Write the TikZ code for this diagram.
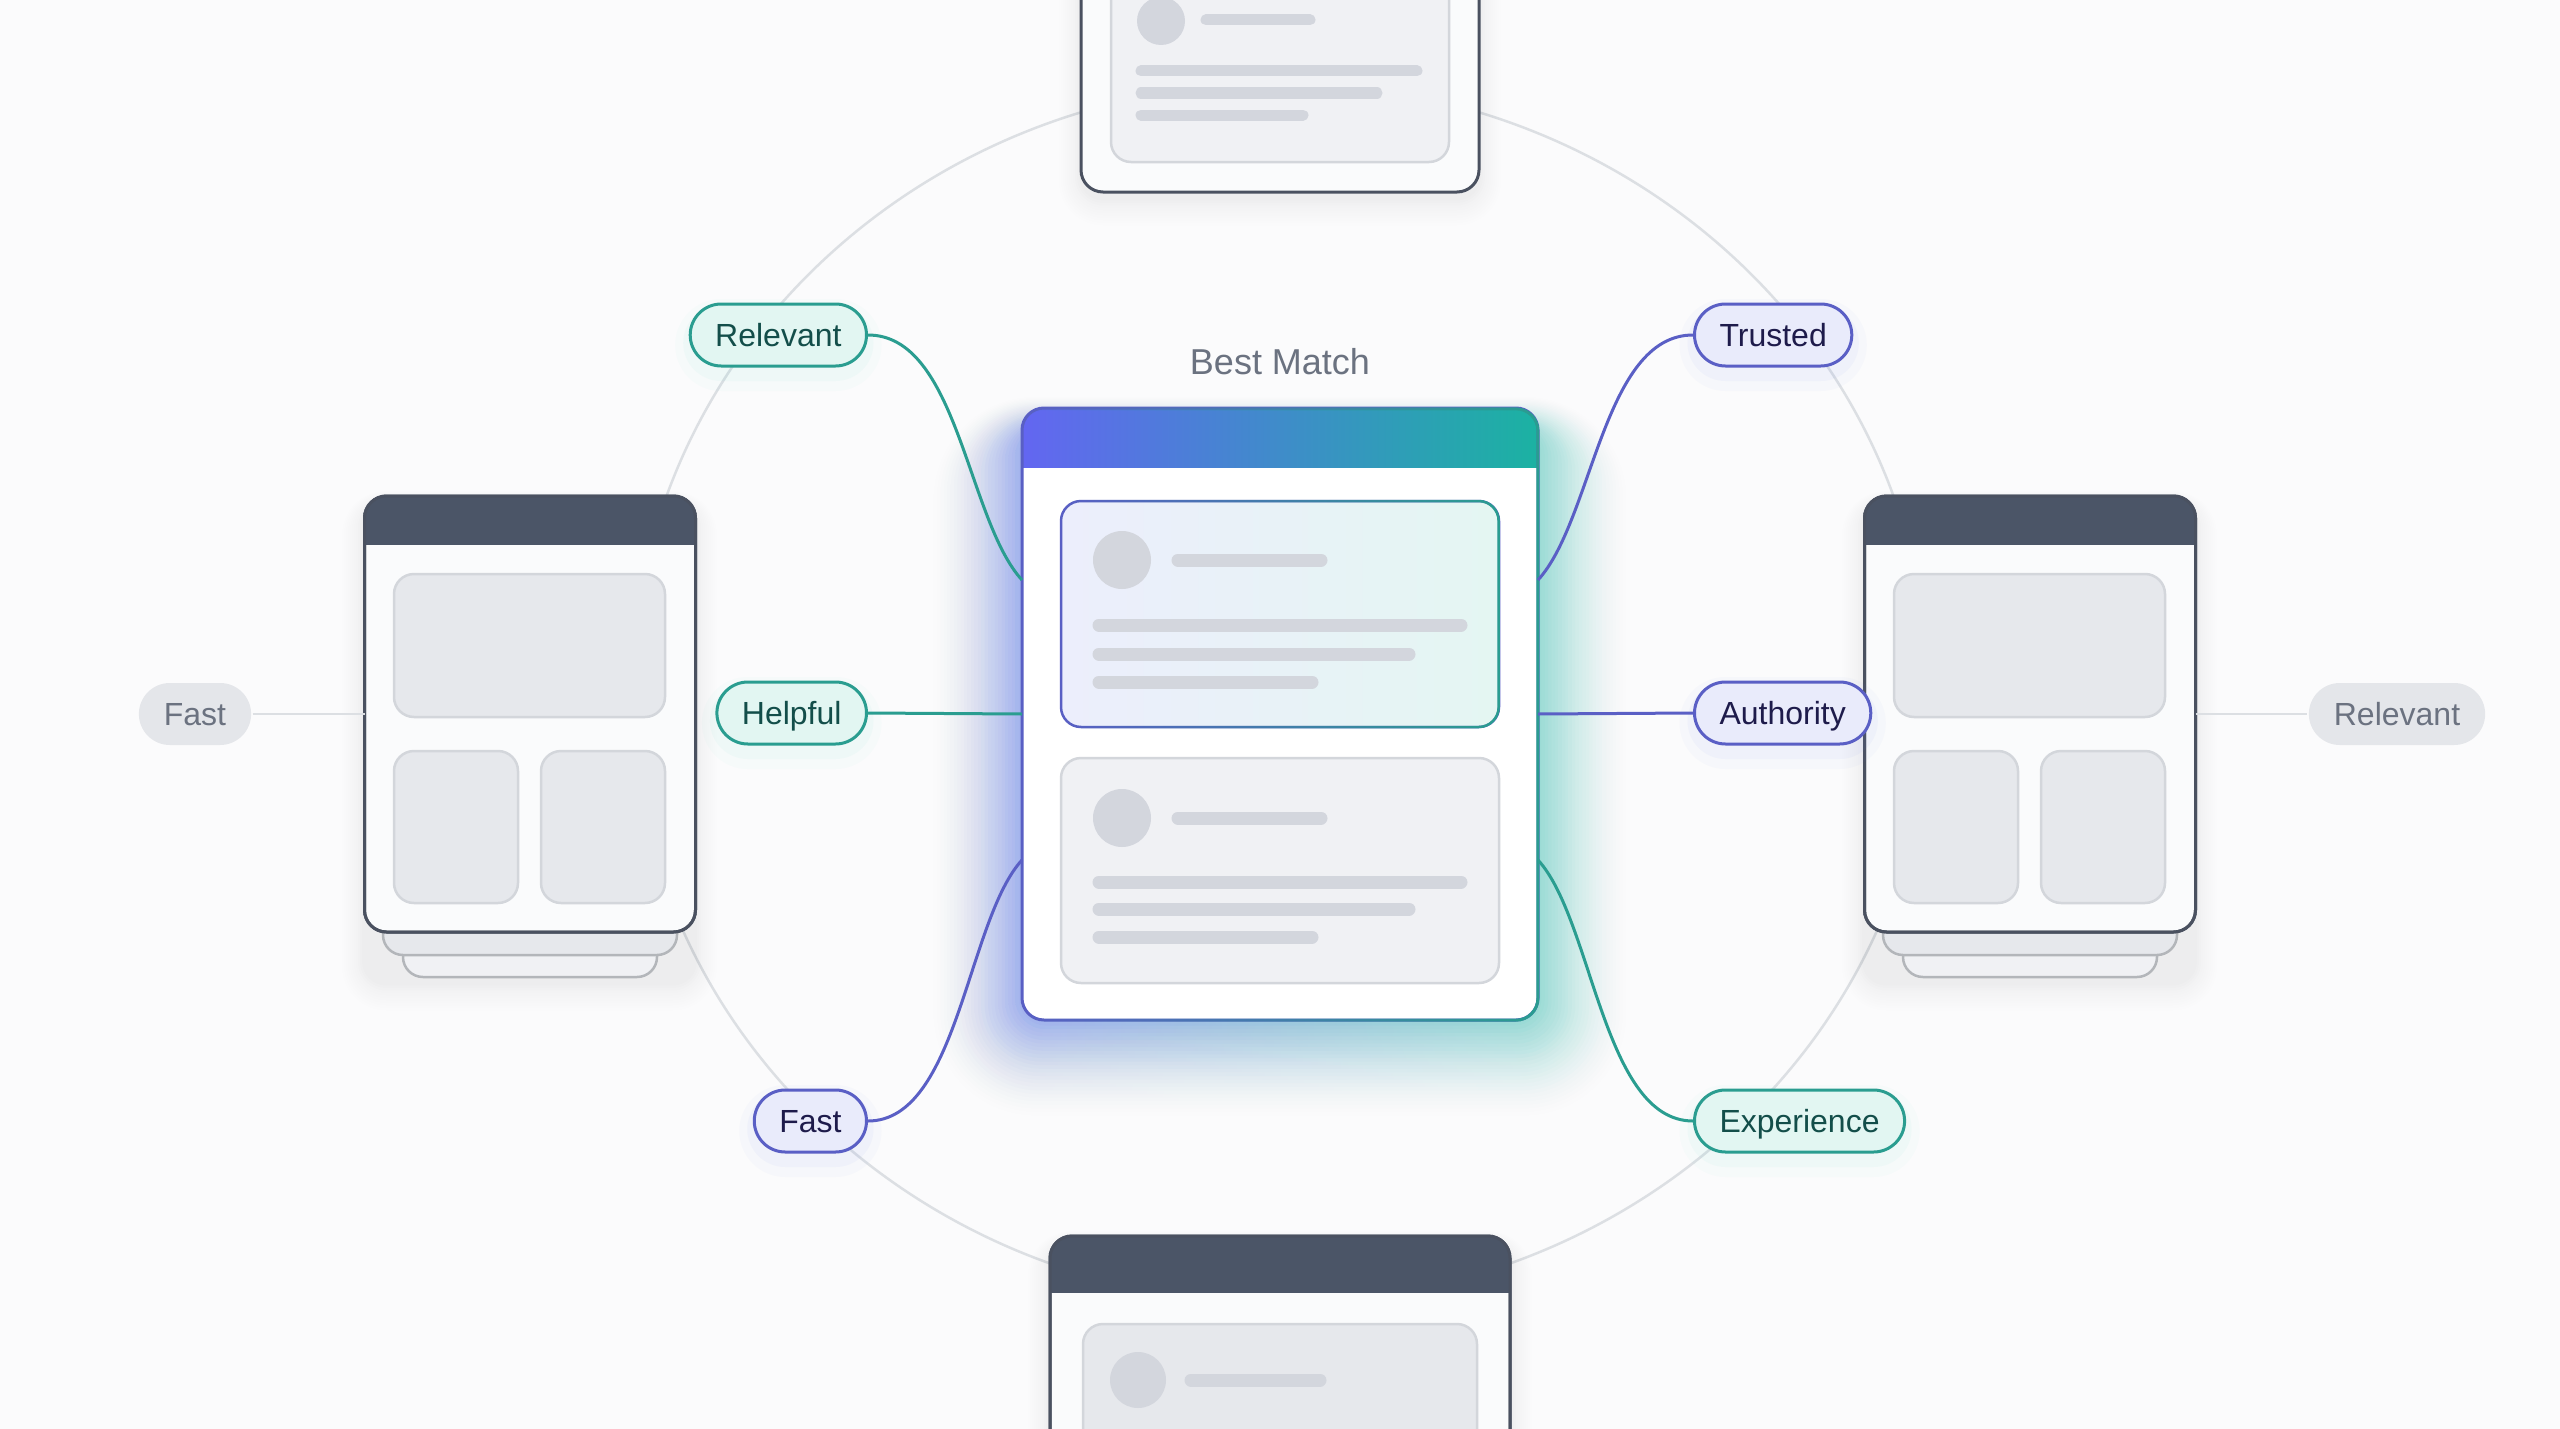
\documentclass[tikz,border=0pt]{standalone}
\usepackage{fontspec}
\setmainfont{Liberation Sans}
\usetikzlibrary{fadings}

\definecolor{bgcol}{HTML}{FBFBFC}
\definecolor{ringcol}{HTML}{DCDFE3}
\definecolor{hdrL}{HTML}{6366F1}
\definecolor{hdrR}{HTML}{1BB2A2}
\definecolor{glowL}{HTML}{7088F2}
\definecolor{glowR}{HTML}{5EDDCB}
\definecolor{tealline}{HTML}{2A9D90}
\definecolor{tealfill}{HTML}{E2F6F2}
\definecolor{tealtext}{HTML}{134E4A}
\definecolor{indline}{HTML}{5A5FC5}
\definecolor{indfill}{HTML}{E9EBFB}
\definecolor{indtext}{HTML}{1E1B4B}
\definecolor{grayfill}{HTML}{E4E6EA}
\definecolor{graytext}{HTML}{6B7280}
\definecolor{slatehdr}{HTML}{4B5567}
\definecolor{cardedge}{HTML}{4A5160}
\definecolor{cardfill}{HTML}{FAFBFC}
\definecolor{panelfill}{HTML}{E6E8EC}
\definecolor{paneledge}{HTML}{D3D6DB}
\definecolor{skel}{HTML}{D3D6DD}
\definecolor{hiL}{HTML}{ECEEFC}
\definecolor{hiR}{HTML}{E4F6F2}
\definecolor{softfill}{HTML}{F0F1F4}

% soft drop shadow under a card: x1 y1 x2 y2
\newcommand\softshadow[4]{%
  \foreach \s [evaluate=\s as \op using 0.008*(1-\s/15),
               evaluate=\s as \rc using 22+2*\s] in {1,...,14}
    \fill[black, opacity=\op, rounded corners=\rc pt]
      (#1-2*\s, #2-\s+6) rectangle (#3+2*\s, #4+2.5*\s+6);
}

\begin{document}
\begin{tikzpicture}[x=1pt,y=-1pt]

    \tikzset{
      cardbox/.style={
        draw=cardedge,
        line width=3pt,
        fill=cardfill,
        rounded corners=22pt,
        outer sep=0pt,
        inner sep=0pt,
      },
      cardline/.style={draw=cardedge, line width=3pt, rounded corners=22pt},
      panel/.style={draw=paneledge, line width=2.5pt, fill=panelfill, rounded corners=20pt},
      stack/.style={draw=paneledge!85!black, line width=2.5pt, fill=#1, rounded corners=20pt},
      bar/.style={draw=skel, line width=#1, line cap=round},
      bar/.default=13pt,
      tag/.style={
        line width=3pt,
        rounded corners=31pt,
        minimum height=62pt,
        inner xsep=25pt,
        text height=26pt,
        text depth=3pt,
        font=\fontsize{32}{38}\selectfont,
      },
      tagglow/.style={
        preaction={draw=#1, line width=30pt, draw opacity=0.03, transform canvas={yshift=-10pt}},
        preaction={draw=#1, line width=14pt, draw opacity=0.05, transform canvas={yshift=-8pt}},
      },
      tealtag/.style={tag, tagglow=glowR, draw=tealline, fill=tealfill, text=tealtext},
      indtag/.style={tag, tagglow=glowL, draw=indline, fill=indfill, text=indtext},
      graytag/.style={tag, fill=grayfill, text=graytext},
      tealwire/.style={draw=tealline, line width=3pt},
      indwire/.style={draw=indline, line width=3pt},
      graywire/.style={draw=ringcol, line width=2.5pt},
    }
    \clip (0,0) rectangle (2560,1429);
    \fill[bgcol] (0,0) rectangle (2560,1429);

    \draw[ringcol, line width=2.5pt] (1280,693) ellipse [x radius=648pt, y radius=610pt];

    % glow behind the best match
    \foreach \g [evaluate=\g as \op using 0.06*(1-\g/27),
                 evaluate=\g as \rc using 24+3*\g] in {1,...,26}
      \shade[left color=glowL, right color=glowR, opacity=\op, rounded corners=\rc pt]
        (1022-3.4*\g, 428-1.2*\g) rectangle (1538+3.4*\g, 1022+3.6*\g);

    % side cards
    \foreach \cx/\nm in {530/leftcard, 2030/rightcard}{
      \softshadow{\cx-166}{496}{\cx+165}{977}
      \draw[stack=softfill] (\cx-127,900) rectangle (\cx+127,977);
      \draw[stack=panelfill] (\cx-147,880) rectangle (\cx+147,955);
      \node[cardbox, minimum width=331pt, minimum height=436pt] (\nm) at (\cx,714) {};
      \begin{scope}
        \clip[rounded corners=22pt] (\nm.north west) rectangle (\nm.south east);
        \fill[slatehdr] (\nm.north west) rectangle ([yshift=-49pt]\nm.north east);
      \end{scope}
      \draw[cardline] (\nm.north west) rectangle (\nm.south east);
      \draw[panel] (\cx-136,574) rectangle (\cx+135,717);
      \draw[panel] (\cx-136,751) rectangle (\cx-12,903);
      \draw[panel] (\cx+11,751) rectangle (\cx+135,903);
    }

    % top card
    \softshadow{1081}{-200}{1479}{192}
    \node[cardbox, minimum width=398pt, minimum height=400pt] (topcard) at (1280,-8) {};
    \draw[panel, fill=softfill] (1111,-100) rectangle (1449,162);
    \fill[skel] (1161,21) circle (24pt);
    \draw[bar=11pt] (1206,20) -- (1310,20);
    \foreach \yy/\xe in {71/1417, 93/1377, 115/1303}
      \draw[bar=11pt] (1141,\yy) -- (\xe,\yy);

    % bottom card
    \softshadow{1050}{1236}{1510}{1736}
    \node[cardbox, minimum width=460pt, minimum height=500pt] (botcard) at (1280,1486) {};
    \begin{scope}
      \clip[rounded corners=22pt] (botcard.north west) rectangle (botcard.south east);
      \fill[slatehdr] (botcard.north west) rectangle ([yshift=-57pt]botcard.north east);
    \end{scope}
    \draw[cardline] (botcard.north west) rectangle (botcard.south east);
    \draw[panel] (1083,1324) rectangle (1477,1600);
    \fill[skel] (1138,1380) circle (28pt);
    \draw[bar] (1191,1380) -- (1320,1380);

    % best match card
    \node[font=\fontsize{36}{42}\selectfont, text=graytext] (bmtitle) at (1280,362) {Best Match};
    \node[fill=white, outer sep=0pt, inner sep=0pt, rounded corners=22pt,
      minimum width=516pt, minimum height=612pt] (best) at (1280,714) {};
    \begin{scope}
      \clip[rounded corners=22pt] (best.north west) rectangle (best.south east);
      \shade[left color=hdrL, right color=hdrR] (best.north west) rectangle ([yshift=-59pt]best.north east);
    \end{scope}
    \draw[indline, line width=3pt, rounded corners=22pt] (best.north west) rectangle (best.south east);
    \draw[tealline, line width=3pt, rounded corners=22pt, path fading=west] (best.north west) rectangle (best.south east);

    \shade[left color=hiL, right color=hiR, rounded corners=20pt] (1061,501) rectangle (1499,727);
    \draw[indline, line width=2.5pt, rounded corners=20pt] (1061,501) rectangle (1499,727);
    \draw[tealline, line width=2.5pt, rounded corners=20pt, path fading=west] (1061,501) rectangle (1499,727);
    \draw[panel, fill=softfill] (1061,758) rectangle (1499,983);
    \foreach \yy in {560,818}{
      \fill[skel] (1122,\yy) circle (29pt);
      \draw[bar] (1178,\yy) -- (1321,\yy);
    }
    \foreach \yy/\xe in {625/1461, 654/1409, 682/1312, 882/1461, 909/1409, 937/1312}
      \draw[bar] (1099,\yy) -- (\xe,\yy);

    \coordinate (bestWn) at ([yshift=-172pt]best.north west);
    \coordinate (bestWs) at ([yshift=160pt]best.south west);
    \coordinate (bestEn) at ([yshift=-172pt]best.north east);
    \coordinate (bestEs) at ([yshift=160pt]best.south east);

    % tags
    \node[tealtag, anchor=east] (rel) at (868,335) {Relevant};
    \node[tealtag, anchor=east] (help) at (868,713) {Helpful};
    \node[indtag, anchor=east] (fastA) at (868,1121) {Fast};
    \node[indtag, anchor=west] (trust) at (1693,335) {Trusted};
    \node[indtag, anchor=west] (auth) at (1693,713) {Authority};
    \node[tealtag, anchor=west] (exper) at (1693,1121) {Experience};
    \node[graytag] (fastG) at (195,714) {Fast};
    \node[graytag] (relG) at (2397,714) {Relevant};

    \draw[tealwire] (rel.east) .. controls +(90,0) and +(-55,-60) .. (bestWn);
    \draw[tealwire] (help.east) -- (best.west);
    \draw[indwire] (fastA.east) .. controls +(90,0) and +(-55,60) .. (bestWs);
    \draw[indwire] (bestEn) .. controls +(55,-60) and +(-90,0) .. (trust.west);
    \draw[indwire] (best.east) -- (auth.west);
    \draw[tealwire] (bestEs) .. controls +(55,60) and +(-90,0) .. (exper.west);
    \draw[graywire] (fastG.east) -- (leftcard.west);
    \draw[graywire] (rightcard.east) -- (relG.west);

\end{tikzpicture}
\end{document}
